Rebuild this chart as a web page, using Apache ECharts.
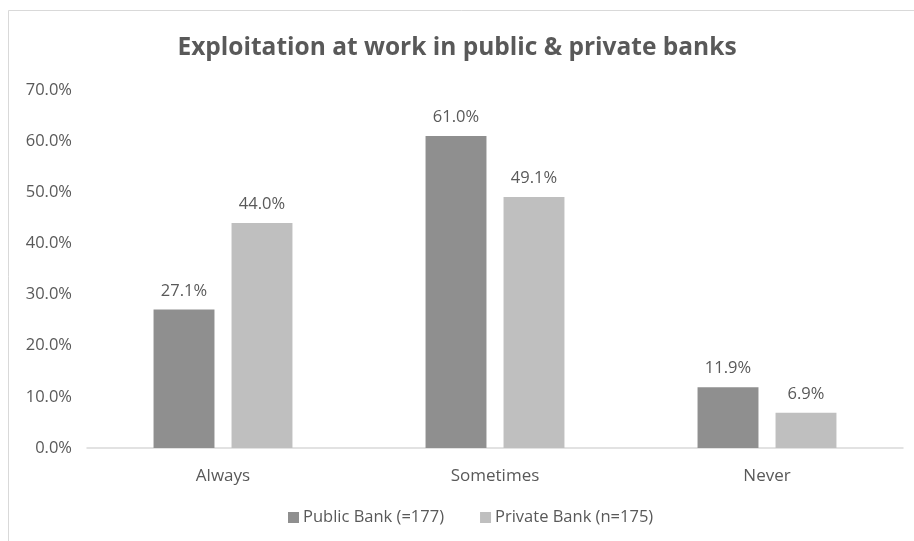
<!DOCTYPE html>
<html>
<head>
<meta charset="utf-8">
<script src="https://cdn.jsdelivr.net/npm/echarts@6/dist/echarts.min.js"></script>
<style>
  html, body { margin: 0; padding: 0; background: #fff; }
  #chart { width: 914px; height: 541px; }
</style>
</head>
<body>
<div id="chart"></div>
<script>
// Share of respondents reporting exploitation at work, by bank type
const categories = ['Always', 'Sometimes', 'Never'];
const publicBank = [27.1, 61.0, 11.9];
const privateBank = [44.0, 49.1, 6.9];
const seriesNames = ['Public Bank (=177)', 'Private Bank (n=175)'];
const yTicks = { min: 0, max: 70, interval: 10 };

const FONT = '"Open Sans", "Noto Sans", sans-serif';
const TEXT = '#595959';

const chart = echarts.init(document.getElementById('chart'), null, { renderer: 'canvas' });

const labelStyle = {
  show: true,
  position: 'top',
  distance: 10,
  color: TEXT,
  fontFamily: FONT,
  fontSize: 16.5,
  formatter: p => p.value.toFixed(1) + '%'
};

chart.setOption({
  animation: false,
  backgroundColor: '#ffffff',
  graphic: [{
    type: 'rect',
    shape: { x: 8.5, y: 10.5, width: 1000, height: 1000 },
    style: { fill: 'none', stroke: '#d9d9d9', lineWidth: 1 },
    silent: true,
    z: -10
  }],
  title: {
    text: 'Exploitation at work in public & private banks',
    left: 'center',
    top: 31,
    textStyle: { color: TEXT, fontFamily: FONT, fontSize: 24.5, fontWeight: 'bold' }
  },
  legend: {
    bottom: 10,
    left: 283,
    itemWidth: 11,
    itemHeight: 11,
    itemGap: 36,
    icon: 'rect',
    textStyle: { color: TEXT, fontFamily: FONT, fontSize: 16.5, padding: [0, 0, 0, -1] },
    data: seriesNames
  },
  grid: { left: 87, right: 11, top: 90, bottom: 93, containLabel: false },
  xAxis: {
    type: 'category',
    data: categories,
    axisLine: { lineStyle: { color: '#d9d9d9', width: 1.5 } },
    axisTick: { show: false },
    axisLabel: { color: TEXT, fontFamily: FONT, fontSize: 17, margin: 20 }
  },
  yAxis: {
    type: 'value',
    min: yTicks.min,
    max: yTicks.max,
    interval: yTicks.interval,
    splitLine: { show: false },
    axisLine: { show: false },
    axisTick: { show: false },
    axisLabel: {
      color: TEXT, fontFamily: FONT, fontSize: 16.5, margin: 15,
      formatter: v => v.toFixed(1) + '%'
    }
  },
  series: [
    {
      name: seriesNames[0],
      type: 'bar',
      data: publicBank,
      barWidth: '22.4%',
      barGap: '28%',
      itemStyle: { color: '#8f8f8f' },
      label: labelStyle
    },
    {
      name: seriesNames[1],
      type: 'bar',
      data: privateBank,
      barWidth: '22.4%',
      barGap: '28%',
      itemStyle: { color: '#bfbfbf' },
      label: labelStyle
    }
  ]
});
</script>
</body>
</html>
